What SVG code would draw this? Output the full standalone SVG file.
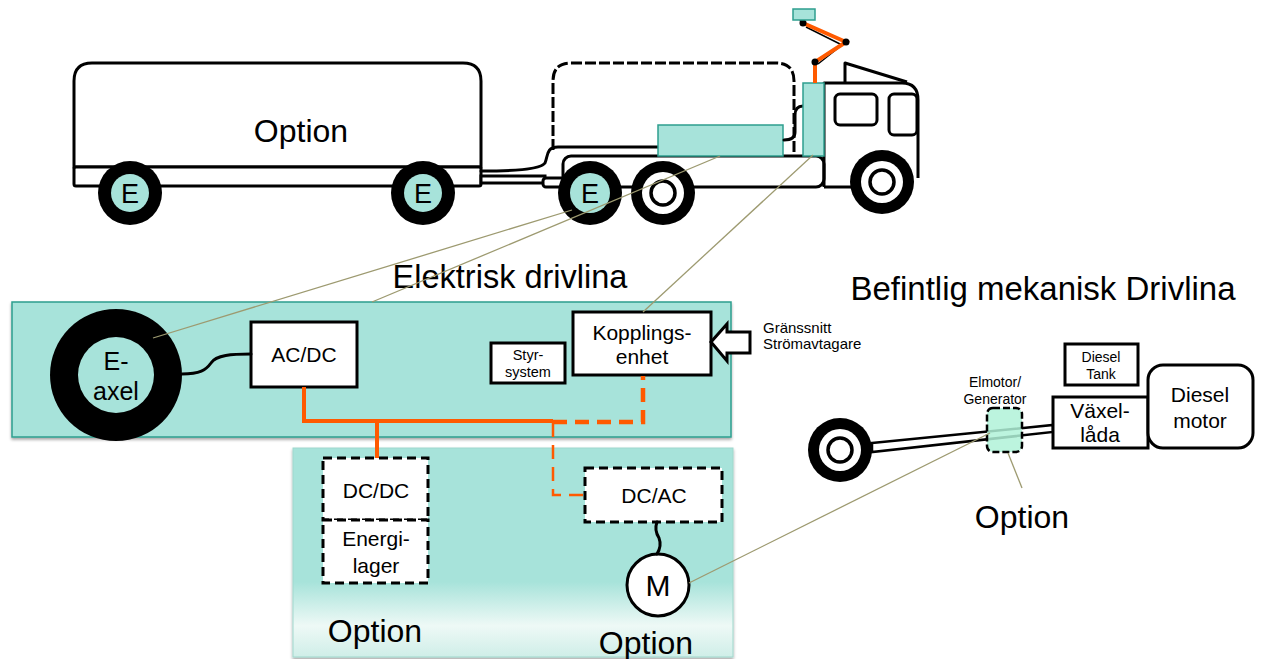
<svg xmlns="http://www.w3.org/2000/svg" width="1262" height="659" viewBox="0 0 1262 659">
  <defs>
    <style>
      .txt { font-family: "Liberation Sans", Arial, sans-serif; fill: #000; }
      .mid { text-anchor: middle; }
      .box { fill: #fff; stroke: #000; stroke-width: 3; }
      .dbox { fill: #fff; stroke: #000; stroke-width: 3; stroke-dasharray: 9 5; }
      .ol { fill: none; stroke: #000; stroke-width: 3; stroke-linejoin: round; }
      .teal { fill: #a7e3da; stroke: #2e9e8e; stroke-width: 1.5; }
      .pwr { fill: none; stroke: #ff5a00; stroke-width: 4; stroke-linejoin: miter; }
      .pwrd { fill: none; stroke: #ff5a00; stroke-width: 4.5; stroke-dasharray: 14 8; }
      .pwrthin { fill: none; stroke: #ff5a00; stroke-width: 2.5; stroke-dasharray: 14 8; }
      .lead { fill: none; stroke: #9d9a70; stroke-width: 1.3; }
      .cable { fill: none; stroke: #000; stroke-width: 3; stroke-linecap: round; }
    </style>
    <linearGradient id="optFade" x1="0" y1="0" x2="0" y2="1">
      <stop offset="0" stop-color="#a7e3da"/>
      <stop offset="0.64" stop-color="#a7e3da"/>
      <stop offset="0.85" stop-color="#eef9f6"/>
      <stop offset="1" stop-color="#cfeee8"/>
    </linearGradient>
    <filter id="shadow" x="-5%" y="-5%" width="110%" height="115%">
      <feDropShadow dx="0" dy="2" stdDeviation="1.5" flood-color="#000" flood-opacity="0.35"/>
    </filter>
  </defs>

  <!-- Background panels -->
  <g id="panel-elektrisk">
    <rect x="12" y="302" width="719" height="135" class="teal" filter="url(#shadow)"/>
  </g>
  <g id="panel-option">
    <rect x="293" y="448" width="440" height="209" fill="url(#optFade)" stroke="#9fd8cd" stroke-width="1" filter="url(#shadow)"/>
  </g>

  <!-- Trailer -->
  <g id="trailer">
    <path d="M74,167 V81 Q74,63 92,63 H463 Q481,63 481,81 V167 Z" class="box"/>
    <rect x="74" y="167" width="407" height="19" rx="2" class="box"/>
    <text x="301" y="142" class="txt mid" font-size="32">Option</text>
    <rect x="481" y="176" width="64" height="7" class="box" stroke-width="2.5"/>
    <rect x="543" y="178" width="24" height="9" rx="3" class="box" stroke-width="2.5"/>
  </g>
  <g id="trailer-wheel-1">
    <circle cx="130" cy="193" r="32" fill="#000"/>
    <circle cx="130" cy="193" r="19" fill="#a7e3da"/>
    <text x="130" y="203" class="txt mid" font-size="27">E</text>
  </g>
  <g id="trailer-wheel-2">
    <circle cx="423" cy="193" r="32" fill="#000"/>
    <circle cx="423" cy="193" r="19" fill="#a7e3da"/>
    <text x="423" y="203" class="txt mid" font-size="27">E</text>
  </g>

  <!-- Truck -->
  <g id="truck">
    <!-- optional body, dashed -->
    <path d="M553,150 V81 Q553,63 571,63 H776 Q794,63 794,81 V156" fill="none" stroke="#000" stroke-width="3" stroke-dasharray="11 3"/>
    <!-- cable from trailer to battery -->
    <path d="M481,171 C510,171 540,170 545,163 C548,156 546,147 558,147 H658" class="cable"/>
    <!-- chassis -->
    <rect x="563" y="156" width="261" height="31" rx="8" class="box"/>
    <!-- battery on chassis -->
    <rect x="658" y="125" width="125" height="31" fill="#a7e3da" stroke="#2e9e8e" stroke-width="1.5"/>
    <!-- cable from current collector box to battery -->
    <path d="M803,106 Q795,106 795,115 V132 Q795,140 784,140" class="cable"/>
    <!-- cab -->
    <path d="M824,187 V83 H902 Q918,83 918,100 V178" class="ol"/>
    <path d="M824,187 H852" class="ol"/>
    <path d="M845,83 V63 L907,82" class="ol"/>
    <rect x="835" y="94" width="42" height="31" rx="5" class="box"/>
    <rect x="889" y="94" width="28" height="41" rx="5" class="box"/>
    <!-- current collector column -->
    <rect x="803" y="83" width="21" height="73" fill="#a7e3da" stroke="#2e9e8e" stroke-width="1.5"/>
    <!-- pantograph arm -->
    <path d="M806,27 L842,45 L818,64" fill="none" stroke="#000" stroke-width="1.5"/>
    <path d="M803,23 L846,42 L815,62 L815,83" class="pwr"/>
    <path d="M800,20 L803,23" stroke="#000" stroke-width="2"/>
    <circle cx="803" cy="23" r="3.5" fill="#000"/>
    <circle cx="846" cy="42" r="3.5" fill="#000"/>
    <circle cx="815" cy="62" r="3.5" fill="#000"/>
    <rect x="793" y="9" width="22" height="11" fill="#a7e3da" stroke="#2e9e8e" stroke-width="1.5"/>
  </g>
  <g id="truck-wheel-e">
    <circle cx="590" cy="193" r="32" fill="#000"/>
    <circle cx="590" cy="193" r="20" fill="#a7e3da"/>
    <text x="590" y="203" class="txt mid" font-size="27">E</text>
  </g>
  <g id="truck-wheel-rear">
    <circle cx="663" cy="193" r="32" fill="#000"/>
    <circle cx="663" cy="193" r="21" fill="#fff"/>
    <circle cx="663" cy="193" r="12" fill="#fff" stroke="#000" stroke-width="3.5"/>
  </g>
  <g id="truck-wheel-front">
    <circle cx="882" cy="182" r="32" fill="#000"/>
    <circle cx="882" cy="182" r="21" fill="#fff"/>
    <circle cx="882" cy="182" r="12" fill="#fff" stroke="#000" stroke-width="3.5"/>
  </g>

  <!-- Titles -->
  <text x="510" y="288" class="txt mid" font-size="32.5">Elektrisk drivlina</text>
  <text x="1043" y="300" class="txt mid" font-size="33">Befintlig mekanisk Drivlina</text>

  <!-- Electric driveline -->
  <g id="e-axel">
    <circle cx="116" cy="375" r="66" fill="#000"/>
    <circle cx="116" cy="375" r="38" fill="#a7e3da"/>
    <text x="116" y="370" class="txt mid" font-size="25">E-</text>
    <text x="116" y="400" class="txt mid" font-size="25">axel</text>
  </g>
  <g id="acdc">
    <rect x="251" y="322" width="106" height="65" class="box"/>
    <text x="304" y="362" class="txt mid" font-size="21">AC/DC</text>
  </g>
  <g id="styrsystem">
    <rect x="491" y="343" width="74" height="40" class="box"/>
    <text x="528" y="360" class="txt mid" font-size="14.5">Styr-</text>
    <text x="528" y="377" class="txt mid" font-size="14.5">system</text>
  </g>
  <g id="kopplingsenhet">
    <rect x="573" y="312" width="138" height="63" class="box"/>
    <text x="642" y="340" class="txt mid" font-size="21">Kopplings-</text>
    <text x="642" y="364" class="txt mid" font-size="21">enhet</text>
  </g>
  <g id="interface">
    <path d="M711,342 L727,324 V332 H750 V353 H727 V361 Z" class="box" stroke-linejoin="miter"/>
    <text x="763" y="333" class="txt" font-size="15">Gränssnitt</text>
    <text x="763" y="349" class="txt" font-size="15">Strömavtagare</text>
  </g>

  <!-- Optional components -->
  <g id="dcdc">
    <rect x="323" y="458" width="105" height="62" class="dbox"/>
    <text x="376" y="498" class="txt mid" font-size="21">DC/DC</text>
  </g>
  <g id="energilager">
    <rect x="323" y="520" width="105" height="63" class="dbox"/>
    <text x="376" y="546" class="txt mid" font-size="21">Energi-</text>
    <text x="376" y="573" class="txt mid" font-size="21">lager</text>
  </g>
  <g id="dcac">
    <rect x="585" y="468" width="137" height="54" class="dbox"/>
    <text x="654" y="503" class="txt mid" font-size="21">DC/AC</text>
  </g>
  <g id="motor-m">
    <circle cx="658" cy="585" r="31" class="box"/>
    <text x="658" y="596" class="txt mid" font-size="30">M</text>
  </g>
  <text x="375" y="642" class="txt mid" font-size="32">Option</text>
  <text x="646" y="654" class="txt mid" font-size="32">Option</text>

  <!-- Mechanical driveline -->
  <g id="mech-shaft">
    <path d="M872,443 L1053,425 L1053,432 L872,452 Z" fill="#fff" stroke="#000" stroke-width="2.5"/>
  </g>
  <g id="mech-wheel">
    <circle cx="840" cy="450" r="32" fill="#000"/>
    <circle cx="840" cy="450" r="21" fill="#fff"/>
    <circle cx="840" cy="450" r="12" fill="#fff" stroke="#000" stroke-width="3.5"/>
  </g>
  <g id="elmotor">
    <rect x="987" y="408" width="35" height="44" rx="6" fill="#b0f2d8" fill-opacity="0.85" stroke="#000" stroke-width="2.5" stroke-dasharray="7 3"/>
    <text x="995" y="387" class="txt mid" font-size="14">Elmotor/</text>
    <text x="995" y="404" class="txt mid" font-size="14">Generator</text>
  </g>
  <g id="diesel-tank">
    <rect x="1065" y="344" width="73" height="41" class="box"/>
    <text x="1101" y="362" class="txt mid" font-size="14">Diesel</text>
    <text x="1101" y="379" class="txt mid" font-size="14">Tank</text>
  </g>
  <g id="vaxellada">
    <rect x="1053" y="397" width="95" height="51" class="box"/>
    <text x="1100" y="418" class="txt mid" font-size="21">Växel-</text>
    <text x="1100" y="442" class="txt mid" font-size="21">låda</text>
  </g>
  <g id="diesel-motor">
    <rect x="1148" y="365" width="105" height="83" rx="15" class="box"/>
    <text x="1200" y="402" class="txt mid" font-size="21">Diesel</text>
    <text x="1200" y="428" class="txt mid" font-size="21">motor</text>
  </g>
  <text x="1022" y="528" class="txt mid" font-size="32">Option</text>

  <!-- Connectors -->
  <g id="connectors">
    <!-- power bus -->
    <path d="M304,387 V421 H553" class="pwr"/>
    <path d="M377,421 V458" class="pwr" stroke-width="3"/>
    <path d="M553,422 H643 V376" class="pwrd"/>
    <path d="M553,423 V495 H585" class="pwrthin"/>
    <!-- signal cables -->
    <path d="M182,374 C200,374 206,370 211,363 C216,355 232,354 251,354" class="cable"/>
    <path d="M657,522 Q654,530 659,538 Q662,546 657,554" class="cable"/>
    <!-- reference leaders -->
    <path d="M572,210 L153,338" class="lead"/>
    <path d="M720,156 L372,302" class="lead"/>
    <path d="M813,155 L643,312" class="lead"/>
    <path d="M689,583 L990,433" class="lead"/>
    <path d="M1008,453 L1022,488" class="lead"/>
  </g>
</svg>
